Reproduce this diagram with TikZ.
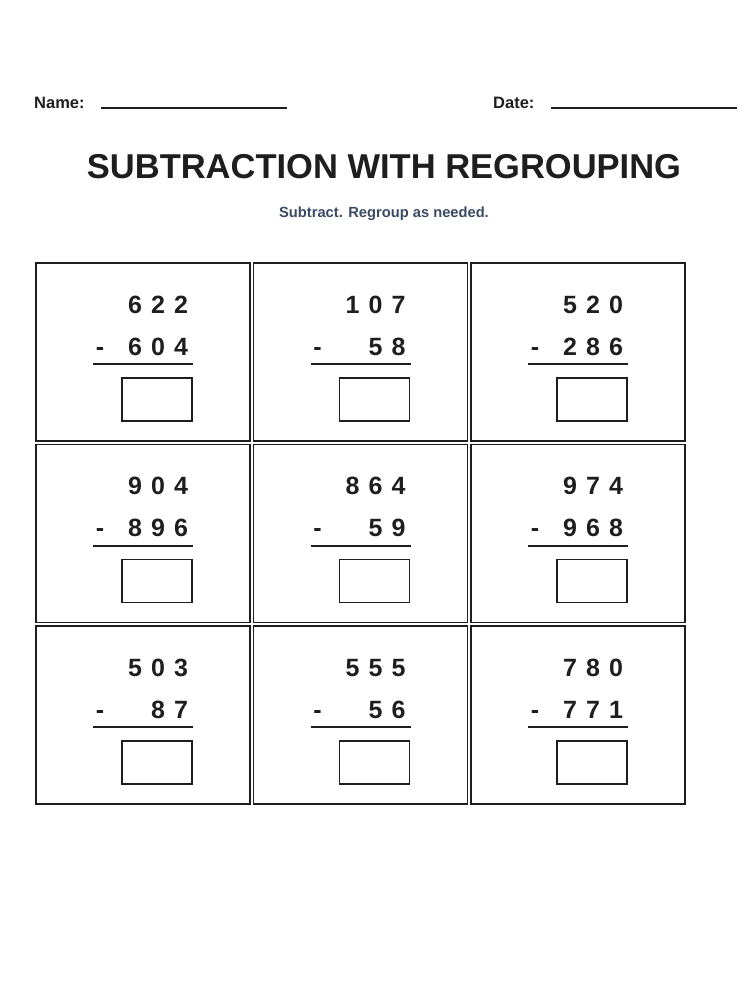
\documentclass[tikz,border=0pt]{standalone}
\usepackage{fontspec}
\setmainfont{Liberation Sans}
\usetikzlibrary{positioning}
\definecolor{ink}{HTML}{1E1E1E}
\definecolor{slate}{HTML}{3B4A63}
\tikzset{
  cell/.style={draw=ink,line width=1.6pt,minimum width=214pt,minimum height=178pt,inner sep=0pt},
  ansbox/.style={draw=ink,line width=1.8pt,minimum width=70pt,minimum height=43pt,inner sep=0pt},
  digit/.style={text=ink,font=\fontsize{25}{25}\selectfont\bfseries,inner sep=0pt,anchor=base},
  label/.style={anchor=base west,inner sep=0pt,font=\fontsize{16.5}{16.5}\selectfont\bfseries,text=ink},
}
\begin{document}
\begin{tikzpicture}[x=1pt,y=-1pt]
\useasboundingbox (0,0) rectangle (750,1000);
\node[label] (name) at (34,109) {Name:};
\coordinate (n1) at (101,108); \coordinate (n2) at (287,108);
\draw[ink,line width=1.2pt] (n1) -- (n2);
\node[label] (date) at (493,109) {Date:};
\coordinate (d1) at (551,108); \coordinate (d2) at (737,108);
\draw[ink,line width=1.2pt] (d1) -- (d2);
\node[anchor=base,font=\fontsize{34.5}{34.5}\selectfont\bfseries,text=ink] (title) at (384,179) {SUBTRACTION WITH REGROUPING};
\node[anchor=base,font=\fontsize{14.7}{14.7}\selectfont\bfseries,text=slate] (sub) at (384,218) {Subtract. Regroup as needed.};
% cells: column/row/top/bottom digits (blank = {})
\foreach \c/\r/\ta/\tb/\tc/\ba/\bb/\bc in {
  0/0/6/2/2/6/0/4, 1/0/1/0/7/{}/5/8, 2/0/5/2/0/2/8/6,
  0/1/9/0/4/8/9/6, 1/1/8/6/4/{}/5/9, 2/1/9/7/4/9/6/8,
  0/2/5/0/3/{}/8/7, 1/2/5/5/5/{}/5/6, 2/2/7/8/0/7/7/1}{
  \begin{scope}[shift={(217.5*\c,181.5*\r)}]
  \node[cell] (cell-\c-\r) at (143,352) {};
  \node[digit] (ta-\c-\r) at (135,313) {\ta};
  \node[digit] (tb-\c-\r) at (158,313) {\tb};
  \node[digit] (tc-\c-\r) at (181,313) {\tc};
  \node[digit] (mi-\c-\r) at (100,355) {-};
  \node[digit] (ba-\c-\r) at (135,355) {\ba};
  \node[digit] (bb-\c-\r) at (158,355) {\bb};
  \node[digit] (bc-\c-\r) at (181,355) {\bc};
  \coordinate (l1-\c-\r) at (93,364); \coordinate (l2-\c-\r) at (193,364);
  \draw[ink,line width=2pt] (l1-\c-\r) -- (l2-\c-\r);
  \node[ansbox] (ans-\c-\r) at (157,399.5) {};
  \end{scope}
}
\end{tikzpicture}
\end{document}
